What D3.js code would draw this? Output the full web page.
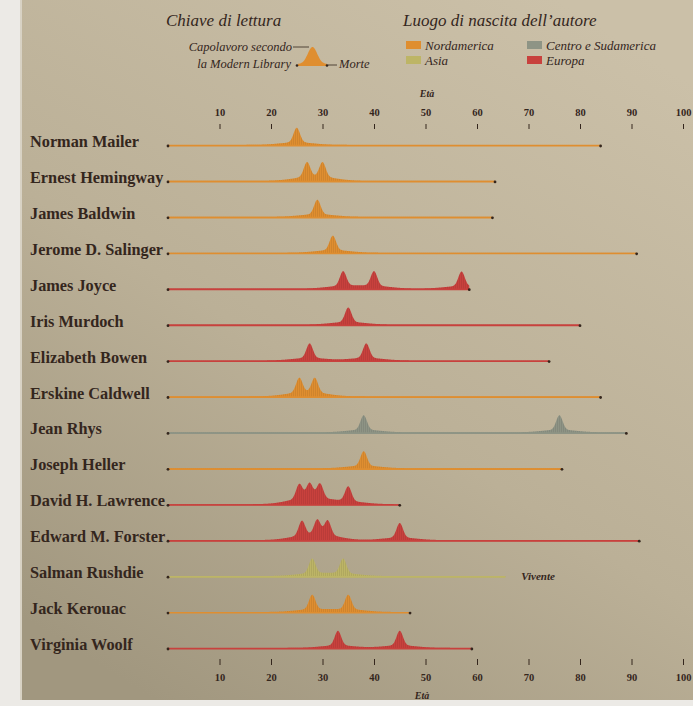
<!DOCTYPE html>
<html><head><meta charset="utf-8">
<script src="https://cdn.jsdelivr.net/npm/d3@7"></script>
<style>body{margin:0;background:#eceae6;} svg{display:block}</style>
</head><body><svg id="c" width="693" height="706"></svg>
<script>
// ---------- data ----------
const authors = ["Norman Mailer","Ernest Hemingway","James Baldwin","Jerome D. Salinger","James Joyce","Iris Murdoch","Elizabeth Bowen","Erskine Caldwell","Jean Rhys","Joseph Heller","David H. Lawrence","Edward M. Forster","Salman Rushdie","Jack Kerouac","Virginia Woolf"];
const birthRegions = ["Nordamerica","Nordamerica","Nordamerica","Nordamerica","Europa","Europa","Europa","Nordamerica","Centro e Sudamerica","Nordamerica","Europa","Europa","Asia","Nordamerica","Europa"];
const masterpieceAges = [[25],[27,30],[29],[32],[34,40,57],[35],[27.5,38.5],[25.5,28.5],[38,76],[38],[25.5,27.5,29.5,35],[26,29,31,45],[28,34],[28,35],[33,45]];
const endAges = [84,63.5,63,91,58.5,80,74,84,89,76.5,45,91.5,65.5,47,59];
const alive = [false,false,false,false,false,false,false,false,false,false,false,false,true,false,false];
const tickValues = [10,20,30,40,50,60,70,80,90,100];
const regionNames = ["Nordamerica","Centro e Sudamerica","Asia","Europa"];
const regionColors = ["#df8e30","#8e9485","#bdb566","#c8413d"];

// ---------- setup ----------
const svg = d3.select("#c");
const ink = "#34261d";
const serif = "'Liberation Serif','DejaVu Serif',serif";
const x = d3.scaleLinear().domain([0,100]).range([168,683]);
const y = d3.scalePoint().domain(authors).range([142,645]);

const defs = svg.append("defs");
const grad = defs.append("linearGradient").attr("id","paper").attr("x1","0.8").attr("y1","0").attr("x2","0.2").attr("y2","1");
grad.append("stop").attr("offset","0").attr("stop-color","#cbc0a8");
grad.append("stop").attr("offset","0.55").attr("stop-color","#bbb097");
grad.append("stop").attr("offset","1").attr("stop-color","#a1977f");
svg.append("rect").attr("x",20).attr("y",0).attr("width",673).attr("height",700).attr("fill","url(#paper)");
svg.append("rect").attr("x",20).attr("y",0).attr("width",2).attr("height",700).attr("fill","#d8d2c4");

regionNames.forEach((r,i)=>{
  const c = regionColors[i];
  const p = defs.append("pattern").attr("id","hatch"+i).attr("patternUnits","userSpaceOnUse").attr("width",2).attr("height",10);
  p.append("rect").attr("width",2).attr("height",10).attr("fill",c);
  p.append("rect").attr("x",1).attr("width",0.7).attr("height",10).attr("fill",d3.color(c).darker(0.3));
});

// ---------- legend ----------
svg.append("text").attr("x",166).attr("y",26).attr("font-family",serif).attr("font-style","italic").attr("font-size",17).attr("fill",ink).text("Chiave di lettura");
svg.append("text").attr("x",403).attr("y",26).attr("font-family",serif).attr("font-style","italic").attr("font-size",17).attr("fill",ink).text("Luogo di nascita dell\u2019autore");
const key = svg.append("g").attr("font-family",serif).attr("font-style","italic").attr("font-size",12.5).attr("fill",ink);
key.append("text").attr("x",292).attr("y",51).attr("text-anchor","end").text("Capolavoro secondo");
key.append("text").attr("x",291).attr("y",68).attr("text-anchor","end").text("la Modern Library");
key.append("text").attr("x",339).attr("y",68).text("Morte");
key.append("line").attr("x1",293).attr("x2",309).attr("y1",47).attr("y2",47).attr("stroke",ink).attr("stroke-width",0.8);
key.append("line").attr("x1",328).attr("x2",337).attr("y1",65).attr("y2",65).attr("stroke",ink).attr("stroke-width",0.8);
const kx = d3.scaleLinear().domain([-4,4]).range([298,327]);
const kpts = d3.range(-4,4.01,0.1).map(a=>[a, 2+17*Math.exp(-a*a/(2*1.3*1.3))]);
key.append("path").attr("d", d3.area().x(d=>kx(d[0])).y0(66).y1(d=>66-d[1]).curve(d3.curveBasis)(kpts)).attr("fill","#df8e30");
key.append("circle").attr("cx",297).attr("cy",65.5).attr("r",1.3).attr("fill",ink);
key.append("circle").attr("cx",327).attr("cy",65.5).attr("r",1.3).attr("fill",ink);

const legPos = [[406,41],[527,41],[406,56],[527,56]];
regionNames.forEach((r,i)=>{
  const g = svg.append("g").attr("transform",`translate(${legPos[i][0]},${legPos[i][1]})`);
  g.append("rect").attr("width",15).attr("height",8).attr("fill",regionColors[i]);
  g.append("text").attr("x",19).attr("y",8.5).attr("font-family",serif).attr("font-style","italic").attr("font-size",13).attr("fill",ink).text(r);
});

// ---------- axes ----------
function styleAxis(g){
  g.select(".domain").remove();
  g.selectAll("line").attr("stroke",ink).attr("stroke-width",1);
  g.selectAll("text").attr("font-family",serif).attr("font-size",10.5).attr("font-weight","bold").attr("fill",ink);
}
svg.append("g").attr("transform","translate(0,129)").call(d3.axisTop(x).tickValues(tickValues).tickSize(5).tickPadding(8)).call(styleAxis);
svg.append("g").attr("transform","translate(0,659)").call(d3.axisBottom(x).tickValues(tickValues).tickSize(6).tickPadding(9)).call(styleAxis);
svg.append("text").attr("x",427).attr("y",97).attr("text-anchor","middle").attr("font-family",serif).attr("font-style","italic").attr("font-weight","bold").attr("font-size",10).attr("fill",ink).text("Età");
svg.append("text").attr("x",422).attr("y",699).attr("text-anchor","middle").attr("font-family",serif).attr("font-style","italic").attr("font-weight","bold").attr("font-size",10).attr("fill",ink).text("Età");

// ---------- rows ----------
function profile(peaks, end){
  return d3.range(0, end+0.001, 0.1).map(a=>{
    let h = 1.1;
    peaks.forEach(p=>{ const d=a-p; h += 14.5*Math.exp(-d*d/(2*0.62*0.62)) + 2.6*Math.exp(-d*d/(2*3.2*3.2)); });
    return [a,h];
  });
}
authors.forEach((name,i)=>{
  const cy = y(name), base = cy + 4;
  const ri = regionNames.indexOf(birthRegions[i]);
  const c = regionColors[ri];
  const g = svg.append("g");
  g.append("text").attr("x",30).attr("y",cy+5).attr("font-family",serif).attr("font-weight","bold").attr("font-size",16.3).attr("fill",ink).text(name);
  const area = d3.area().x(d=>x(d[0])).y0(base).y1(d=>base-d[1]).curve(d3.curveBasis);
  g.append("path").attr("d",area(profile(masterpieceAges[i],endAges[i]))).attr("fill",`url(#hatch${ri})`);
  g.append("line").attr("x1",x(0)).attr("x2",x(endAges[i])).attr("y1",base-0.3).attr("y2",base-0.3).attr("stroke",c).attr("stroke-width",1.7);
  g.append("circle").attr("cx",x(0)).attr("cy",base).attr("r",1.4).attr("fill",ink);
  if(alive[i]){
    g.append("text").attr("x",x(endAges[i])+16).attr("y",base+3).attr("font-family",serif).attr("font-style","italic").attr("font-weight","bold").attr("font-size",11).attr("fill",ink).text("Vivente");
  } else {
    g.append("circle").attr("cx",x(endAges[i])).attr("cy",base).attr("r",1.4).attr("fill",ink);
  }
});
</script></body></html>
